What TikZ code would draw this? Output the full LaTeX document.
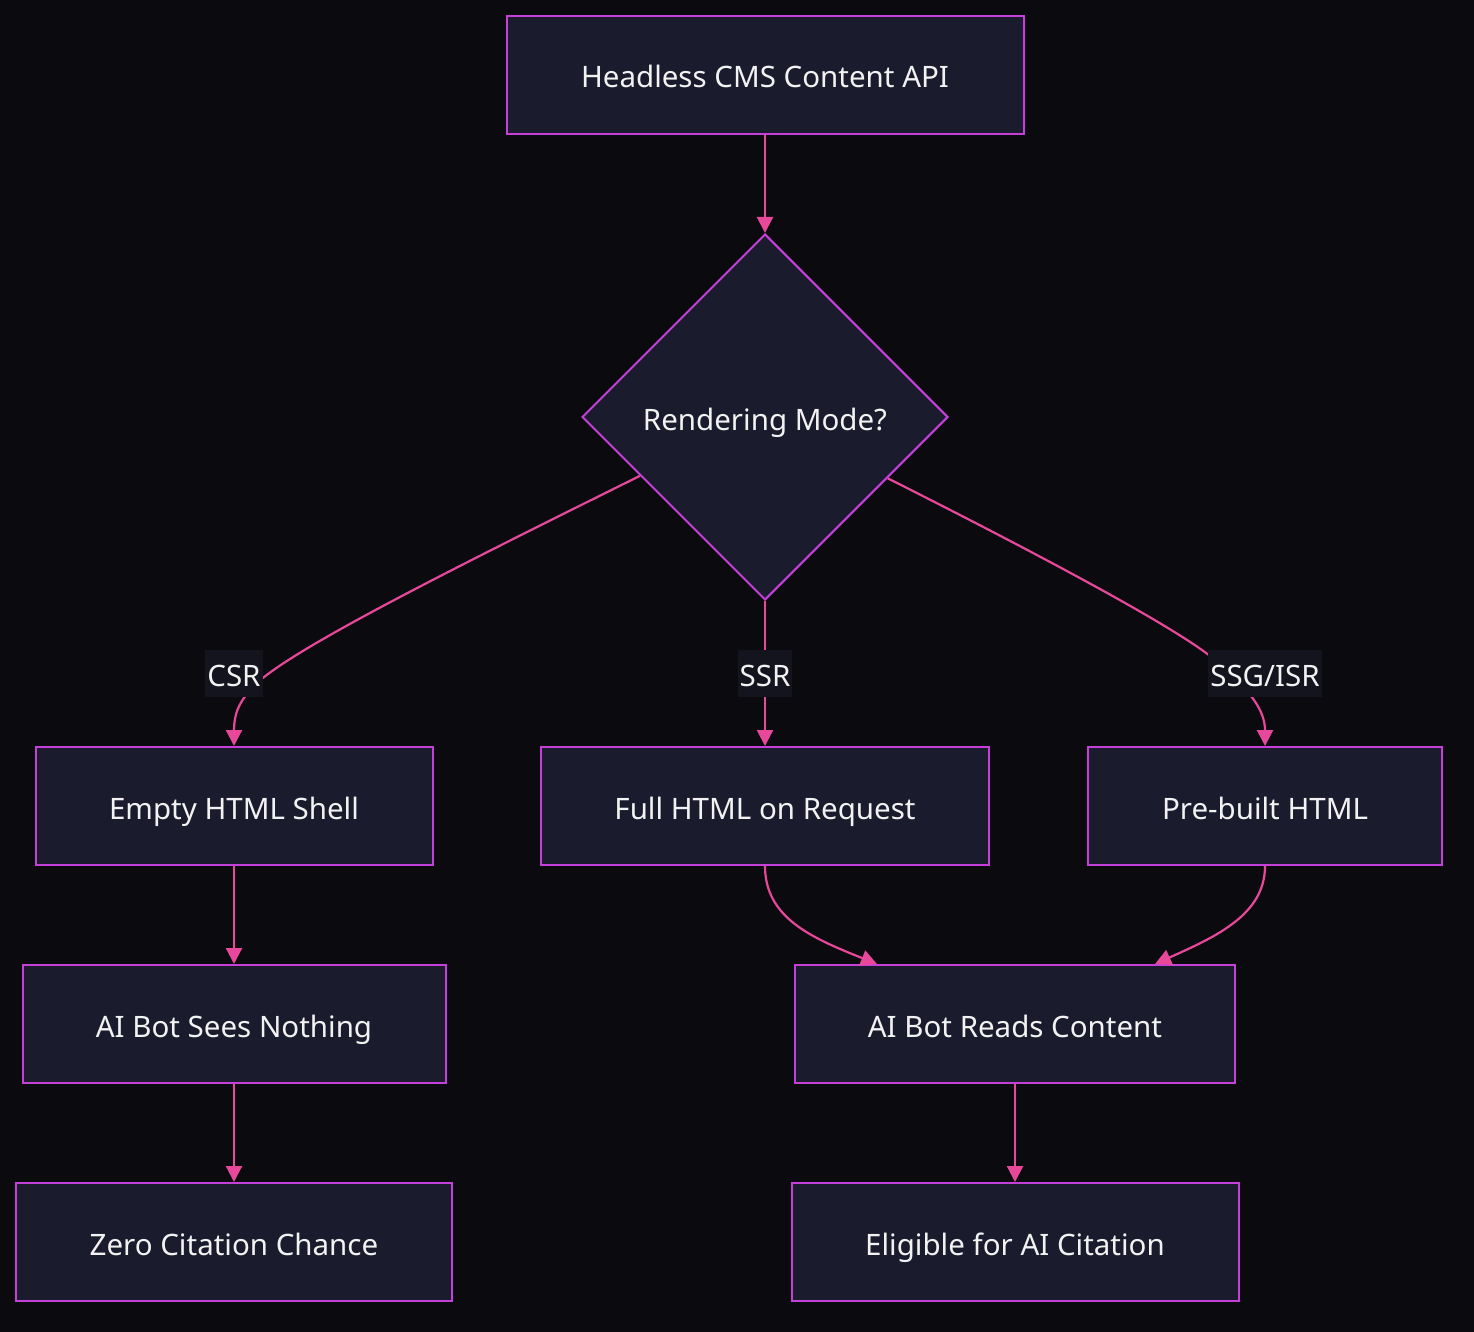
\documentclass[tikz,border=0pt]{standalone}
\usepackage{fontspec}
\setmainfont{Noto Sans}
\usetikzlibrary{shapes.geometric,arrows.meta,calc}
\definecolor{bgc}{HTML}{0A0A0F}
\definecolor{boxfill}{HTML}{1B1B2E}
\definecolor{boxline}{HTML}{C540D8}
\definecolor{edgec}{HTML}{E8489A}
\definecolor{lblfill}{HTML}{14141F}
\definecolor{txt}{HTML}{F2F2F2}
\tikzset{
  lbltext/.style={text=txt, font=\fontsize{29.5}{34}\selectfont, text height=26pt, text depth=0pt},
  box/.style={draw=boxline, fill=boxfill, line width=2pt, rectangle, inner sep=0pt,
    minimum height=118pt, lbltext},
  decision/.style={draw=boxline, fill=boxfill, line width=2pt, diamond, aspect=1, inner sep=0pt,
    minimum width=366pt, minimum height=366pt, lbltext},
  edge/.style={draw=edgec, line width=2.2pt, -{Triangle[length=16pt,width=16pt]}},
  lbl/.style={fill=lblfill, lbltext, inner xsep=2pt, inner ysep=0pt, minimum height=47pt}
}
\begin{document}
\begin{tikzpicture}[x=1pt,y=-1pt]
\fill[bgc] (0,0) rectangle (1474,1332);
\useasboundingbox (0,0) rectangle (1474,1332);
\node[box, minimum width=517pt] (api) at (765,75) {Headless CMS Content API};
\node[decision] (d) at (765,417) {Rendering Mode?};
\node[box, minimum width=397pt] (shell) at (234,806) {Empty HTML Shell};
\node[box, minimum width=448pt] (full) at (765,806) {Full HTML on Request};
\node[box, minimum width=354pt] (pre) at (1265,806) {Pre-built HTML};
\node[box, minimum width=423pt] (sees) at (234,1024) {AI Bot Sees Nothing};
\node[box, minimum width=440pt] (reads) at (1015,1024) {AI Bot Reads Content};
\node[box, minimum width=436pt] (zero) at (234,1242) {Zero Citation Chance};
\node[box, minimum width=447pt] (elig) at (1015,1242) {Eligible for AI Citation};

\draw[edge] (api.south) -- (d.north);
\draw[edge] ($(d.west)!0.32!(d.south)$) .. controls (450,570) and (290,650) .. (255,685)
  .. controls (238,702) and (234,715) .. (shell.north);
\draw[edge] (d.south) -- (full.north);
\draw[edge] ($(d.east)!0.333!(d.south)$) .. controls (1050,560) and (1180,630) .. (1215,660)
  .. controls (1250,690) and (1265,710) .. (pre.north);
\draw[edge] (shell.south) -- (sees.north);
\draw[edge] (sees.south) -- (zero.north);
\draw[edge] (full.south) .. controls (765,918) and (812,938) .. ([xshift=-138pt]reads.north);
\draw[edge] (pre.south) .. controls (1265,915) and (1215,937) .. ([xshift=140pt]reads.north);
\draw[edge] (reads.south) -- (elig.north);

\node[lbl] (csr) at (234,673.5) {CSR};
\node[lbl] (ssr) at (765,673.5) {SSR};
\node[lbl] (ssg) at (1265,673.5) {SSG/ISR};
\end{tikzpicture}
\end{document}
